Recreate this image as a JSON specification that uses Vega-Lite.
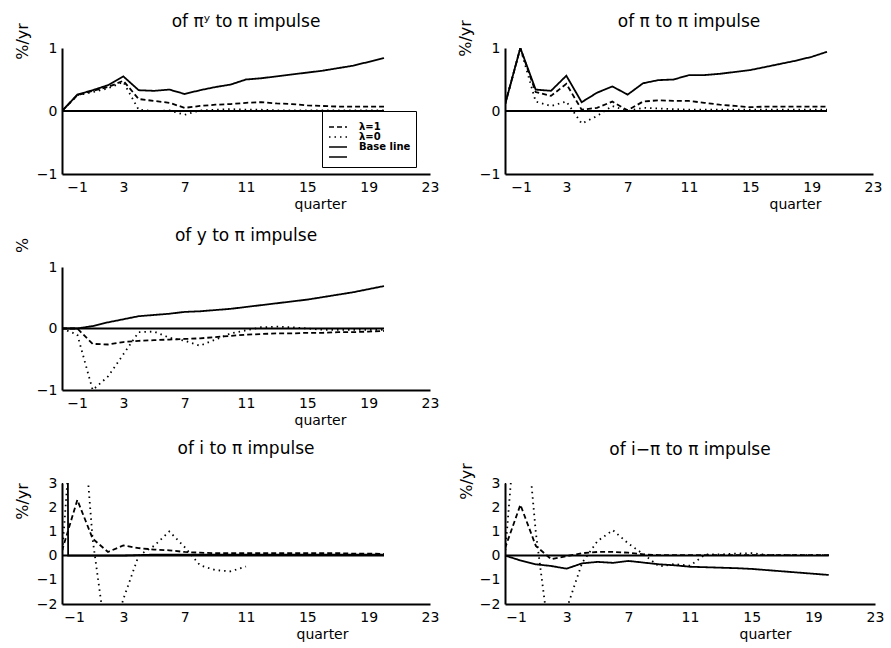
{
"$schema": "https://vega.github.io/schema/vega-lite/v6.json",
"padding": {"left": 14, "top": 12, "right": 5, "bottom": 5},
"background": "white",
"config": {
 "font": "DejaVu Sans",
 "view": {"stroke": null},
 "axis": {"domainColor": "black", "domainWidth": 2, "ticks": false, "grid": false, "labelColor": "black", "labelFontSize": 14, "titleColor": "black", "titleFontWeight": "normal", "labelFont": "DejaVu Sans", "titleFont": "DejaVu Sans", "labelOverlap": false},
 "axisX": {"labelPadding": 6, "titleFontSize": 14, "labelFlush": false, "labelOverlap": false, "titleAlign": "center", "titleBaseline": "middle", "titleY": 30},
 "axisY": {"labelPadding": 5, "titleFontSize": 16, "titleAlign": "center", "titleBaseline": "middle", "titleAngle": -90, "format": "d", "labelOverlap": false, "labelFlush": false},
 "title": {"fontSize": 17, "fontWeight": "normal", "color": "black", "frame": "group", "baseline": "alphabetic", "anchor": "middle", "font": "DejaVu Sans"}
},
"datasets": {"d": [
{"p":1,"s":"Base line","q":-1,"v":0},{"p":1,"s":"Base line","q":0,"v":0.26},{"p":1,"s":"Base line","q":1,"v":0.33},{"p":1,"s":"Base line","q":2,"v":0.41},{"p":1,"s":"Base line","q":3,"v":0.55},{"p":1,"s":"Base line","q":4,"v":0.33},{"p":1,"s":"Base line","q":5,"v":0.32},{"p":1,"s":"Base line","q":6,"v":0.34},{"p":1,"s":"Base line","q":7,"v":0.27},{"p":1,"s":"Base line","q":8,"v":0.33},{"p":1,"s":"Base line","q":9,"v":0.38},{"p":1,"s":"Base line","q":10,"v":0.42},{"p":1,"s":"Base line","q":11,"v":0.5},{"p":1,"s":"Base line","q":12,"v":0.52},{"p":1,"s":"Base line","q":13,"v":0.55},{"p":1,"s":"Base line","q":14,"v":0.58},{"p":1,"s":"Base line","q":15,"v":0.61},{"p":1,"s":"Base line","q":16,"v":0.64},{"p":1,"s":"Base line","q":17,"v":0.68},{"p":1,"s":"Base line","q":18,"v":0.72},{"p":1,"s":"Base line","q":19,"v":0.78},{"p":1,"s":"Base line","q":20,"v":0.84},
{"p":1,"s":"λ=1","q":-1,"v":0},{"p":1,"s":"λ=1","q":0,"v":0.25},{"p":1,"s":"λ=1","q":1,"v":0.32},{"p":1,"s":"λ=1","q":2,"v":0.38},{"p":1,"s":"λ=1","q":3,"v":0.48},{"p":1,"s":"λ=1","q":4,"v":0.19},{"p":1,"s":"λ=1","q":5,"v":0.16},{"p":1,"s":"λ=1","q":6,"v":0.13},{"p":1,"s":"λ=1","q":7,"v":0.05},{"p":1,"s":"λ=1","q":8,"v":0.08},{"p":1,"s":"λ=1","q":9,"v":0.1},{"p":1,"s":"λ=1","q":10,"v":0.11},{"p":1,"s":"λ=1","q":11,"v":0.13},{"p":1,"s":"λ=1","q":12,"v":0.14},{"p":1,"s":"λ=1","q":13,"v":0.12},{"p":1,"s":"λ=1","q":14,"v":0.11},{"p":1,"s":"λ=1","q":15,"v":0.09},{"p":1,"s":"λ=1","q":16,"v":0.08},{"p":1,"s":"λ=1","q":17,"v":0.07},{"p":1,"s":"λ=1","q":18,"v":0.07},{"p":1,"s":"λ=1","q":19,"v":0.07},{"p":1,"s":"λ=1","q":20,"v":0.07},
{"p":1,"s":"λ=0","q":-1,"v":0},{"p":1,"s":"λ=0","q":0,"v":0.25},{"p":1,"s":"λ=0","q":1,"v":0.3},{"p":1,"s":"λ=0","q":2,"v":0.36},{"p":1,"s":"λ=0","q":3,"v":0.46},{"p":1,"s":"λ=0","q":4,"v":0.02},{"p":1,"s":"λ=0","q":5,"v":0},{"p":1,"s":"λ=0","q":6,"v":0.01},{"p":1,"s":"λ=0","q":7,"v":-0.06},{"p":1,"s":"λ=0","q":8,"v":0.01},{"p":1,"s":"λ=0","q":9,"v":0.02},{"p":1,"s":"λ=0","q":10,"v":0.03},{"p":1,"s":"λ=0","q":11,"v":0.02},{"p":1,"s":"λ=0","q":12,"v":0.02},{"p":1,"s":"λ=0","q":13,"v":0.01},{"p":1,"s":"λ=0","q":14,"v":0.01},{"p":1,"s":"λ=0","q":15,"v":0.01},{"p":1,"s":"λ=0","q":16,"v":0.01},{"p":1,"s":"λ=0","q":17,"v":0.01},{"p":1,"s":"λ=0","q":18,"v":0.01},{"p":1,"s":"λ=0","q":19,"v":0.01},{"p":1,"s":"λ=0","q":20,"v":0.01},
{"p":2,"s":"Base line","q":-1,"v":0.1},{"p":2,"s":"Base line","q":0,"v":1.0},{"p":2,"s":"Base line","q":1,"v":0.34},{"p":2,"s":"Base line","q":2,"v":0.32},{"p":2,"s":"Base line","q":3,"v":0.56},{"p":2,"s":"Base line","q":4,"v":0.14},{"p":2,"s":"Base line","q":5,"v":0.29},{"p":2,"s":"Base line","q":6,"v":0.39},{"p":2,"s":"Base line","q":7,"v":0.26},{"p":2,"s":"Base line","q":8,"v":0.44},{"p":2,"s":"Base line","q":9,"v":0.49},{"p":2,"s":"Base line","q":10,"v":0.5},{"p":2,"s":"Base line","q":11,"v":0.57},{"p":2,"s":"Base line","q":12,"v":0.57},{"p":2,"s":"Base line","q":13,"v":0.59},{"p":2,"s":"Base line","q":14,"v":0.62},{"p":2,"s":"Base line","q":15,"v":0.65},{"p":2,"s":"Base line","q":16,"v":0.7},{"p":2,"s":"Base line","q":17,"v":0.75},{"p":2,"s":"Base line","q":18,"v":0.8},{"p":2,"s":"Base line","q":19,"v":0.86},{"p":2,"s":"Base line","q":20,"v":0.94},
{"p":2,"s":"λ=1","q":-1,"v":0.1},{"p":2,"s":"λ=1","q":0,"v":1.0},{"p":2,"s":"λ=1","q":1,"v":0.3},{"p":2,"s":"λ=1","q":2,"v":0.24},{"p":2,"s":"λ=1","q":3,"v":0.43},{"p":2,"s":"λ=1","q":4,"v":0.02},{"p":2,"s":"λ=1","q":5,"v":0.05},{"p":2,"s":"λ=1","q":6,"v":0.15},{"p":2,"s":"λ=1","q":7,"v":0.01},{"p":2,"s":"λ=1","q":8,"v":0.15},{"p":2,"s":"λ=1","q":9,"v":0.17},{"p":2,"s":"λ=1","q":10,"v":0.16},{"p":2,"s":"λ=1","q":11,"v":0.16},{"p":2,"s":"λ=1","q":12,"v":0.13},{"p":2,"s":"λ=1","q":13,"v":0.1},{"p":2,"s":"λ=1","q":14,"v":0.08},{"p":2,"s":"λ=1","q":15,"v":0.06},{"p":2,"s":"λ=1","q":16,"v":0.07},{"p":2,"s":"λ=1","q":17,"v":0.07},{"p":2,"s":"λ=1","q":18,"v":0.07},{"p":2,"s":"λ=1","q":19,"v":0.07},{"p":2,"s":"λ=1","q":20,"v":0.07},
{"p":2,"s":"λ=0","q":-1,"v":0.1},{"p":2,"s":"λ=0","q":0,"v":1.0},{"p":2,"s":"λ=0","q":1,"v":0.15},{"p":2,"s":"λ=0","q":2,"v":0.08},{"p":2,"s":"λ=0","q":3,"v":0.15},{"p":2,"s":"λ=0","q":4,"v":-0.2},{"p":2,"s":"λ=0","q":5,"v":-0.08},{"p":2,"s":"λ=0","q":6,"v":0.08},{"p":2,"s":"λ=0","q":7,"v":0},{"p":2,"s":"λ=0","q":8,"v":0.05},{"p":2,"s":"λ=0","q":9,"v":0.04},{"p":2,"s":"λ=0","q":10,"v":0.03},{"p":2,"s":"λ=0","q":11,"v":0.02},{"p":2,"s":"λ=0","q":12,"v":0.02},{"p":2,"s":"λ=0","q":13,"v":0.02},{"p":2,"s":"λ=0","q":14,"v":0.02},{"p":2,"s":"λ=0","q":15,"v":0.02},{"p":2,"s":"λ=0","q":16,"v":0.02},{"p":2,"s":"λ=0","q":17,"v":0.02},{"p":2,"s":"λ=0","q":18,"v":0.02},{"p":2,"s":"λ=0","q":19,"v":0.02},{"p":2,"s":"λ=0","q":20,"v":0.02},
{"p":3,"s":"Base line","q":-1,"v":0},{"p":3,"s":"Base line","q":0,"v":0},{"p":3,"s":"Base line","q":1,"v":0.04},{"p":3,"s":"Base line","q":2,"v":0.1},{"p":3,"s":"Base line","q":3,"v":0.15},{"p":3,"s":"Base line","q":4,"v":0.2},{"p":3,"s":"Base line","q":5,"v":0.22},{"p":3,"s":"Base line","q":6,"v":0.24},{"p":3,"s":"Base line","q":7,"v":0.27},{"p":3,"s":"Base line","q":8,"v":0.28},{"p":3,"s":"Base line","q":9,"v":0.3},{"p":3,"s":"Base line","q":10,"v":0.32},{"p":3,"s":"Base line","q":11,"v":0.35},{"p":3,"s":"Base line","q":12,"v":0.38},{"p":3,"s":"Base line","q":13,"v":0.41},{"p":3,"s":"Base line","q":14,"v":0.44},{"p":3,"s":"Base line","q":15,"v":0.47},{"p":3,"s":"Base line","q":16,"v":0.51},{"p":3,"s":"Base line","q":17,"v":0.55},{"p":3,"s":"Base line","q":18,"v":0.59},{"p":3,"s":"Base line","q":19,"v":0.64},{"p":3,"s":"Base line","q":20,"v":0.69},
{"p":3,"s":"λ=1","q":-1,"v":0},{"p":3,"s":"λ=1","q":0,"v":0},{"p":3,"s":"λ=1","q":1,"v":-0.25},{"p":3,"s":"λ=1","q":2,"v":-0.26},{"p":3,"s":"λ=1","q":3,"v":-0.22},{"p":3,"s":"λ=1","q":4,"v":-0.2},{"p":3,"s":"λ=1","q":5,"v":-0.19},{"p":3,"s":"λ=1","q":6,"v":-0.18},{"p":3,"s":"λ=1","q":7,"v":-0.17},{"p":3,"s":"λ=1","q":8,"v":-0.16},{"p":3,"s":"λ=1","q":9,"v":-0.14},{"p":3,"s":"λ=1","q":10,"v":-0.12},{"p":3,"s":"λ=1","q":11,"v":-0.1},{"p":3,"s":"λ=1","q":12,"v":-0.09},{"p":3,"s":"λ=1","q":13,"v":-0.08},{"p":3,"s":"λ=1","q":14,"v":-0.08},{"p":3,"s":"λ=1","q":15,"v":-0.07},{"p":3,"s":"λ=1","q":16,"v":-0.07},{"p":3,"s":"λ=1","q":17,"v":-0.06},{"p":3,"s":"λ=1","q":18,"v":-0.06},{"p":3,"s":"λ=1","q":19,"v":-0.05},{"p":3,"s":"λ=1","q":20,"v":-0.04},
{"p":3,"s":"λ=0","q":-1,"v":0},{"p":3,"s":"λ=0","q":0,"v":-0.1},{"p":3,"s":"λ=0","q":1,"v":-1.0},{"p":3,"s":"λ=0","q":2,"v":-0.78},{"p":3,"s":"λ=0","q":3,"v":-0.42},{"p":3,"s":"λ=0","q":4,"v":-0.06},{"p":3,"s":"λ=0","q":5,"v":-0.05},{"p":3,"s":"λ=0","q":6,"v":-0.15},{"p":3,"s":"λ=0","q":7,"v":-0.2},{"p":3,"s":"λ=0","q":8,"v":-0.28},{"p":3,"s":"λ=0","q":9,"v":-0.18},{"p":3,"s":"λ=0","q":10,"v":-0.08},{"p":3,"s":"λ=0","q":11,"v":-0.03},{"p":3,"s":"λ=0","q":12,"v":0.02},{"p":3,"s":"λ=0","q":13,"v":0.03},{"p":3,"s":"λ=0","q":14,"v":0.02},{"p":3,"s":"λ=0","q":15,"v":0},{"p":3,"s":"λ=0","q":16,"v":-0.02},{"p":3,"s":"λ=0","q":17,"v":-0.02},{"p":3,"s":"λ=0","q":18,"v":-0.02},{"p":3,"s":"λ=0","q":19,"v":-0.02},{"p":3,"s":"λ=0","q":20,"v":-0.02},
{"p":4,"s":"Base line","q":-1,"v":-0.8},{"p":4,"s":"Base line","q":-0.99,"v":6},{"p":4,"s":"Base line","q":-0.63,"v":6},{"p":4,"s":"Base line","q":-0.6,"v":0},{"p":4,"s":"Base line","q":0,"v":0},{"p":4,"s":"Base line","q":1,"v":0},{"p":4,"s":"Base line","q":2,"v":0},{"p":4,"s":"Base line","q":3,"v":0},{"p":4,"s":"Base line","q":4,"v":0.02},{"p":4,"s":"Base line","q":5,"v":0.04},{"p":4,"s":"Base line","q":6,"v":0.04},{"p":4,"s":"Base line","q":7,"v":0.04},{"p":4,"s":"Base line","q":8,"v":0.04},{"p":4,"s":"Base line","q":9,"v":0.04},{"p":4,"s":"Base line","q":10,"v":0.04},{"p":4,"s":"Base line","q":11,"v":0.04},{"p":4,"s":"Base line","q":12,"v":0.04},{"p":4,"s":"Base line","q":13,"v":0.04},{"p":4,"s":"Base line","q":14,"v":0.04},{"p":4,"s":"Base line","q":15,"v":0.04},{"p":4,"s":"Base line","q":16,"v":0.04},{"p":4,"s":"Base line","q":17,"v":0.04},{"p":4,"s":"Base line","q":18,"v":0.04},{"p":4,"s":"Base line","q":19,"v":0.04},{"p":4,"s":"Base line","q":20,"v":0.04},
{"p":4,"s":"λ=1","q":-1,"v":0.2},{"p":4,"s":"λ=1","q":0,"v":2.3},{"p":4,"s":"λ=1","q":1,"v":0.7},{"p":4,"s":"λ=1","q":2,"v":0.15},{"p":4,"s":"λ=1","q":3,"v":0.42},{"p":4,"s":"λ=1","q":4,"v":0.31},{"p":4,"s":"λ=1","q":5,"v":0.25},{"p":4,"s":"λ=1","q":6,"v":0.22},{"p":4,"s":"λ=1","q":7,"v":0.15},{"p":4,"s":"λ=1","q":8,"v":0.12},{"p":4,"s":"λ=1","q":9,"v":0.1},{"p":4,"s":"λ=1","q":10,"v":0.1},{"p":4,"s":"λ=1","q":11,"v":0.1},{"p":4,"s":"λ=1","q":12,"v":0.1},{"p":4,"s":"λ=1","q":13,"v":0.1},{"p":4,"s":"λ=1","q":14,"v":0.1},{"p":4,"s":"λ=1","q":15,"v":0.1},{"p":4,"s":"λ=1","q":16,"v":0.1},{"p":4,"s":"λ=1","q":17,"v":0.1},{"p":4,"s":"λ=1","q":18,"v":0.08},{"p":4,"s":"λ=1","q":19,"v":0.08},{"p":4,"s":"λ=1","q":20,"v":0.07},
{"p":4,"s":"λ=0","q":-1,"v":0},{"p":4,"s":"λ=0","q":0,"v":8.7},{"p":4,"s":"λ=0","q":1,"v":0.67},{"p":4,"s":"λ=0","q":2,"v":-4},{"p":4,"s":"λ=0","q":3,"v":-1.8},{"p":4,"s":"λ=0","q":4,"v":0},{"p":4,"s":"λ=0","q":5,"v":0.4},{"p":4,"s":"λ=0","q":6,"v":1.0},{"p":4,"s":"λ=0","q":7,"v":0.35},{"p":4,"s":"λ=0","q":8,"v":-0.4},{"p":4,"s":"λ=0","q":9,"v":-0.6},{"p":4,"s":"λ=0","q":10,"v":-0.65},{"p":4,"s":"λ=0","q":11,"v":-0.45},
{"p":5,"s":"Base line","q":-1,"v":6},{"p":5,"s":"Base line","q":-0.99,"v":0},{"p":5,"s":"Base line","q":0,"v":-0.2},{"p":5,"s":"Base line","q":1,"v":-0.36},{"p":5,"s":"Base line","q":2,"v":-0.43},{"p":5,"s":"Base line","q":3,"v":-0.54},{"p":5,"s":"Base line","q":4,"v":-0.32},{"p":5,"s":"Base line","q":5,"v":-0.26},{"p":5,"s":"Base line","q":6,"v":-0.3},{"p":5,"s":"Base line","q":7,"v":-0.22},{"p":5,"s":"Base line","q":8,"v":-0.29},{"p":5,"s":"Base line","q":9,"v":-0.36},{"p":5,"s":"Base line","q":10,"v":-0.4},{"p":5,"s":"Base line","q":11,"v":-0.46},{"p":5,"s":"Base line","q":12,"v":-0.48},{"p":5,"s":"Base line","q":13,"v":-0.5},{"p":5,"s":"Base line","q":14,"v":-0.52},{"p":5,"s":"Base line","q":15,"v":-0.55},{"p":5,"s":"Base line","q":16,"v":-0.6},{"p":5,"s":"Base line","q":17,"v":-0.65},{"p":5,"s":"Base line","q":18,"v":-0.7},{"p":5,"s":"Base line","q":19,"v":-0.75},{"p":5,"s":"Base line","q":20,"v":-0.8},
{"p":5,"s":"λ=1","q":-1,"v":0.3},{"p":5,"s":"λ=1","q":0,"v":2.1},{"p":5,"s":"λ=1","q":1,"v":0.4},{"p":5,"s":"λ=1","q":2,"v":-0.15},{"p":5,"s":"λ=1","q":3,"v":-0.02},{"p":5,"s":"λ=1","q":4,"v":0.1},{"p":5,"s":"λ=1","q":5,"v":0.15},{"p":5,"s":"λ=1","q":6,"v":0.15},{"p":5,"s":"λ=1","q":7,"v":0.12},{"p":5,"s":"λ=1","q":8,"v":0.05},{"p":5,"s":"λ=1","q":9,"v":0.02},{"p":5,"s":"λ=1","q":10,"v":0.02},{"p":5,"s":"λ=1","q":11,"v":0.02},{"p":5,"s":"λ=1","q":12,"v":0.02},{"p":5,"s":"λ=1","q":13,"v":0.02},{"p":5,"s":"λ=1","q":14,"v":0.02},{"p":5,"s":"λ=1","q":15,"v":0.02},{"p":5,"s":"λ=1","q":16,"v":0.02},{"p":5,"s":"λ=1","q":17,"v":0.02},{"p":5,"s":"λ=1","q":18,"v":0.02},{"p":5,"s":"λ=1","q":19,"v":0.02},{"p":5,"s":"λ=1","q":20,"v":0.02},
{"p":5,"s":"λ=0","q":-1,"v":0},{"p":5,"s":"λ=0","q":0,"v":8},{"p":5,"s":"λ=0","q":1,"v":0.95},{"p":5,"s":"λ=0","q":2,"v":-4},{"p":5,"s":"λ=0","q":3,"v":-2.2},{"p":5,"s":"λ=0","q":4,"v":-0.3},{"p":5,"s":"λ=0","q":5,"v":0.6},{"p":5,"s":"λ=0","q":6,"v":1.05},{"p":5,"s":"λ=0","q":7,"v":0.5},{"p":5,"s":"λ=0","q":8,"v":0.05},{"p":5,"s":"λ=0","q":9,"v":-0.45},{"p":5,"s":"λ=0","q":10,"v":-0.35},{"p":5,"s":"λ=0","q":11,"v":-0.42},{"p":5,"s":"λ=0","q":12,"v":0.05},{"p":5,"s":"λ=0","q":13,"v":0.05},{"p":5,"s":"λ=0","q":14,"v":0.08},{"p":5,"s":"λ=0","q":15,"v":0.1},{"p":5,"s":"λ=0","q":16,"v":0.03},{"p":5,"s":"λ=0","q":17,"v":0.02},{"p":5,"s":"λ=0","q":18,"v":0.02},{"p":5,"s":"λ=0","q":19,"v":0.02},{"p":5,"s":"λ=0","q":20,"v":0.02}
]},
"columns": 2,
"bounds": "flush",
"spacing": {"row": 93, "column": 75},
"resolve": {"legend": {"strokeDash": "independent"}},
"concat": [
  {"width": 368, "height": 126,
   "title": {"text": "of πʸ to π impulse", "offset": -8},
   "layer": [
    {"data": {"name": "d"}, "transform": [{"filter": "datum.p === 1"}],
     "mark": {"type": "line", "color": "black", "strokeWidth": 1.8, "clip": true},
     "encoding": {
      "x": {"field": "q", "type": "quantitative", "scale": {"domain": [-1, 23], "nice": false, "zero": false}, "axis": {"values": [-1, 3, 7, 11, 15, 19, 23], "title": "quarter", "titleX": 258, "labelOverlap": false, "labelOffset": {"condition": {"test": "datum.value === -1", "value": 15}, "value": 0}}},
      "y": {"field": "v", "type": "quantitative", "scale": {"domain": [-1, 1], "nice": false, "zero": false}, "axis": {"values": [-1, 0, 1], "labelOverlap": false, "title": "%/yr", "titleX": -40, "titleY": -7}},
      "strokeDash": {"field": "s", "type": "nominal", "scale": {"domain": ["λ=1", "λ=0", "Base line", " "], "range": [[5, 3], [1.5, 4], [1, 0], [1, 0]]},
        "legend": {"orient": "none", "legendX": 260, "legendY": 63, "title": " ", "titleFontSize": 6, "titlePadding": 0, "strokeColor": "black", "padding": 5, "symbolType": "M-1,0H5", "symbolSize": 36, "symbolStrokeColor": "black", "symbolStrokeWidth": 1.6, "labelFontSize": 10, "labelFontWeight": "bold", "labelOffset": 22, "rowPadding": 0, "labelColor": "black", "labelFont": "DejaVu Sans"}}
     }},
    {"data": {"values": [{}]}, "mark": {"type": "rule", "color": "black", "strokeWidth": 2}, "encoding": {"x": {"datum": -1, "type": "quantitative"}, "x2": {"datum": 20}, "y": {"datum": 0, "type": "quantitative"}}}
   ]},
  {"width": 368, "height": 126,
   "title": {"text": "of π to π impulse", "offset": -11},
   "layer": [
    {"data": {"name": "d"}, "transform": [{"filter": "datum.p === 2"}],
     "mark": {"type": "line", "color": "black", "strokeWidth": 1.8, "clip": true},
     "encoding": {
      "x": {"field": "q", "type": "quantitative", "scale": {"domain": [-1, 23], "nice": false, "zero": false}, "axis": {"values": [-1, 3, 7, 11, 15, 19, 23], "title": "quarter", "titleX": 290, "labelOverlap": false, "labelOffset": {"condition": {"test": "datum.value === -1", "value": 16}, "value": 0}}},
      "y": {"field": "v", "type": "quantitative", "scale": {"domain": [-1, 1], "nice": false, "zero": false}, "axis": {"values": [-1, 0, 1], "labelOverlap": false, "title": "%/yr", "titleX": -40, "titleY": -10}},
      "strokeDash": {"field": "s", "type": "nominal", "scale": {"domain": ["λ=1", "λ=0", "Base line", " "], "range": [[5, 3], [1.5, 4], [1, 0], [1, 0]]}, "legend": null}
     }},
    {"data": {"values": [{}]}, "mark": {"type": "rule", "color": "black", "strokeWidth": 2}, "encoding": {"x": {"datum": -1, "type": "quantitative"}, "x2": {"datum": 20}, "y": {"datum": 0, "type": "quantitative"}}}
   ]},
  {"width": 368, "height": 123,
   "title": {"text": "of y to π impulse", "offset": -7.5},
   "layer": [
    {"data": {"name": "d"}, "transform": [{"filter": "datum.p === 3"}],
     "mark": {"type": "line", "color": "black", "strokeWidth": 1.8, "clip": true},
     "encoding": {
      "x": {"field": "q", "type": "quantitative", "scale": {"domain": [-1, 23], "nice": false, "zero": false}, "axis": {"values": [-1, 3, 7, 11, 15, 19, 23], "title": "quarter", "titleX": 258, "labelOverlap": false, "labelOffset": {"condition": {"test": "datum.value === -1", "value": 15}, "value": 0}}},
      "y": {"field": "v", "type": "quantitative", "scale": {"domain": [-1, 1], "nice": false, "zero": false}, "axis": {"values": [-1, 0, 1], "labelOverlap": false, "title": "%", "titleX": -40, "titleY": -22}},
      "strokeDash": {"field": "s", "type": "nominal", "scale": {"domain": ["λ=1", "λ=0", "Base line", " "], "range": [[5, 3], [1.5, 4], [1, 0], [1, 0]]}, "legend": null}
     }},
    {"data": {"values": [{}]}, "mark": {"type": "rule", "color": "black", "strokeWidth": 2}, "encoding": {"x": {"datum": -1, "type": "quantitative"}, "x2": {"datum": 20}, "y": {"datum": 0, "type": "quantitative"}}}
   ]},
  {"width": 368, "height": 123, "data": {"values": []}, "mark": "point"},
  {"width": 368, "height": 121,
   "title": {"text": "of i to π impulse", "offset": 18},
   "layer": [
    {"data": {"name": "d"}, "transform": [{"filter": "datum.p === 4"}],
     "mark": {"type": "line", "color": "black", "strokeWidth": 1.8, "clip": true},
     "encoding": {
      "x": {"field": "q", "type": "quantitative", "scale": {"domain": [-1, 23], "nice": false, "zero": false}, "axis": {"values": [-1, 3, 7, 11, 15, 19, 23], "title": "quarter", "titleX": 260, "labelOverlap": false, "labelOffset": {"condition": {"test": "datum.value === -1", "value": 12}, "value": 0}}},
      "y": {"field": "v", "type": "quantitative", "scale": {"domain": [-2, 3], "nice": false, "zero": false}, "axis": {"values": [-2, -1, 0, 1, 2, 3], "labelOverlap": false, "tickCount": 6, "title": "%/yr", "titleX": -40, "titleY": 18}},
      "strokeDash": {"field": "s", "type": "nominal", "scale": {"domain": ["λ=1", "λ=0", "Base line", " "], "range": [[5, 3], [1.5, 4], [1, 0], [1, 0]]}, "legend": null}
     }},
    {"data": {"values": [{}]}, "mark": {"type": "rule", "color": "black", "strokeWidth": 2}, "encoding": {"x": {"datum": -1, "type": "quantitative"}, "x2": {"datum": 20}, "y": {"datum": 0, "type": "quantitative"}}}
   ]},
  {"width": 370, "height": 121,
   "title": {"text": "of i−π to π impulse", "offset": 4},
   "layer": [
    {"data": {"name": "d"}, "transform": [{"filter": "datum.p === 5"}],
     "mark": {"type": "line", "color": "black", "strokeWidth": 1.8, "clip": true},
     "encoding": {
      "x": {"field": "q", "type": "quantitative", "scale": {"domain": [-1, 23], "nice": false, "zero": false}, "axis": {"values": [-1, 3, 7, 11, 15, 19, 23], "title": "quarter", "titleX": 260, "labelOverlap": false, "labelOffset": {"condition": {"test": "datum.value === -1", "value": 11}, "value": 0}}},
      "y": {"field": "v", "type": "quantitative", "scale": {"domain": [-2, 3], "nice": false, "zero": false}, "axis": {"values": [-2, -1, 0, 1, 2, 3], "labelOverlap": false, "tickCount": 6, "title": "%/yr", "titleX": -39, "titleY": -2}},
      "strokeDash": {"field": "s", "type": "nominal", "scale": {"domain": ["λ=1", "λ=0", "Base line", " "], "range": [[5, 3], [1.5, 4], [1, 0], [1, 0]]}, "legend": null}
     }},
    {"data": {"values": [{}]}, "mark": {"type": "rule", "color": "black", "strokeWidth": 2}, "encoding": {"x": {"datum": -1, "type": "quantitative"}, "x2": {"datum": 20}, "y": {"datum": 0, "type": "quantitative"}}}
   ]}
]
}
